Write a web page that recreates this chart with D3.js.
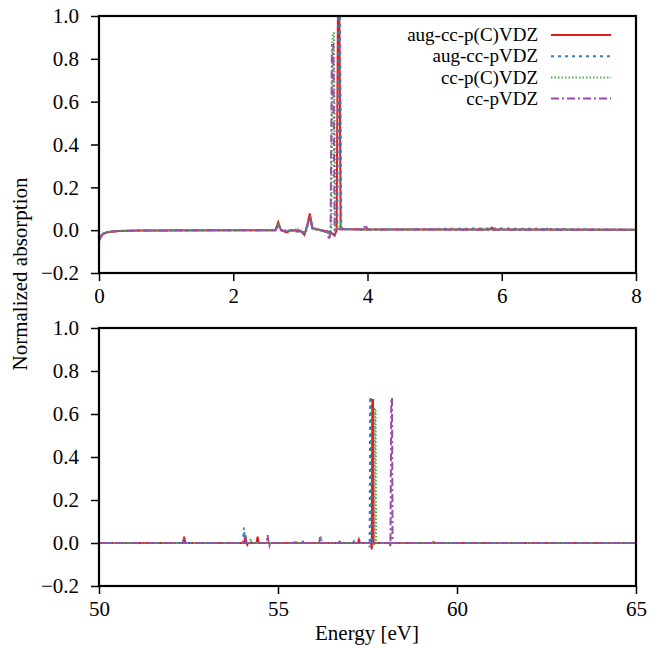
<!DOCTYPE html>
<html><head><meta charset="utf-8">
<script src="https://cdn.jsdelivr.net/npm/d3@7/dist/d3.min.js"></script>
<style>
body{margin:0;background:#fff;}
text{font-family:"Liberation Serif",serif;}
</style></head>
<body><svg id="c" width="662" height="648"></svg>
<script>
// ---- data ----
const seriesNames = ["aug-cc-p(C)VDZ","aug-cc-pVDZ","cc-p(C)VDZ","cc-pVDZ"];
const seriesColors = ["#e41a1c","#377eb8","#4daf4a","#984ea3"];
const seriesDash = [null,"3,4","1.5,2","8,3,2,3"];

const yTicks = [-0.2,0.0,0.2,0.4,0.6,0.8,1.0];
const topXTicks = [0,2,4,6,8];
const botXTicks = [50,55,60,65];

// top panel (0-8 eV): [energy, absorption]
const topRed = [[0,-0.05],[0.03,-0.03],[0.06,-0.018],[0.1,-0.012],[0.16,-0.008],[0.3,-0.004],[0.6,-0.002],[1.0,-0.001],[2.0,0],[2.63,0],[2.67,0.037],[2.71,0],[2.8,-0.01],[2.86,0],[3.0,-0.003],[3.06,-0.022],[3.1,0.02],[3.14,0.078],[3.18,0.01],[3.25,0.004],[3.32,0],[3.45,-0.01],[3.51,-0.025],[3.54,0],[3.56,1.05],[3.58,1.05],[3.6,0.004],[3.7,0.004],[4.0,0.003],[5.82,0.003],[5.85,0.012],[5.88,0.003],[8,0.002]];
const topBlue = [[0,-0.048],[0.03,-0.028],[0.06,-0.017],[0.1,-0.011],[0.16,-0.007],[0.3,-0.004],[0.6,-0.002],[1.0,-0.001],[2.0,0],[2.63,0],[2.67,0.03],[2.71,0],[2.8,-0.008],[2.86,0],[3.06,-0.015],[3.1,0.02],[3.14,0.07],[3.18,0.008],[3.3,0],[3.45,-0.008],[3.52,-0.02],[3.55,0],[3.57,1.05],[3.59,1.05],[3.61,0.004],[3.7,0.004],[4.0,0.003],[5.85,0.008],[8,0.002]];
const topGreen = [[0,-0.045],[0.03,-0.026],[0.06,-0.016],[0.1,-0.01],[0.16,-0.007],[0.3,-0.003],[0.6,-0.002],[1.0,-0.001],[2.0,0],[2.63,0],[2.67,0.025],[2.71,0],[2.92,0],[2.95,0.01],[2.98,0],[3.08,-0.01],[3.14,0.06],[3.18,0.006],[3.3,0],[3.42,-0.015],[3.46,0],[3.48,0.92],[3.5,0.92],[3.52,0],[3.58,0.01],[3.6,0.03],[3.63,0.005],[4.0,0.003],[8,0.002]];
const topPurple = [[0,-0.047],[0.03,-0.027],[0.06,-0.017],[0.1,-0.011],[0.16,-0.007],[0.3,-0.004],[0.6,-0.002],[1.0,-0.001],[2.0,0],[2.63,0],[2.67,0.025],[2.71,0],[2.8,-0.005],[2.9,0],[3.08,-0.012],[3.14,0.065],[3.18,0.006],[3.3,0],[3.4,-0.01],[3.43,-0.045],[3.45,0],[3.47,0.865],[3.49,0.865],[3.51,0],[3.56,0.005],[3.94,0.003],[3.97,0.025],[4.0,0.003],[6.65,0.002],[6.68,0.008],[6.71,0.002],[8,0.002]];

// bottom panel (50-65 eV)
const botRed = [[50,0],[52.35,0],[52.38,0.03],[52.41,0],[54.05,0],[54.09,0.035],[54.12,0],[54.14,-0.008],[54.16,0],[54.4,0],[54.43,0.03],[54.46,0],[56.69,0],[56.72,0.006],[56.75,0],[57.23,0],[57.26,0.016],[57.29,0],[57.6,0],[57.62,-0.03],[57.635,0.665],[57.655,0.665],[57.67,0],[65,0]];
const botBlue = [[50,0],[52.34,0],[52.36,0.012],[52.38,0],[54.02,0],[54.05,0.072],[54.07,0.02],[54.09,0.04],[54.11,0],[57.09,0],[57.12,0.008],[57.15,0],[57.54,0],[57.56,-0.02],[57.575,0.68],[57.595,0.68],[57.61,0],[65,0]];
const botGreen = [[50,0],[52.97,0],[53.0,0.005],[53.03,0],[54.2,0],[54.23,0.02],[54.26,0],[55.45,0],[55.48,0.012],[55.51,0],[56.17,0],[56.2,0.03],[56.23,0],[57.67,0],[57.69,-0.01],[57.705,0.625],[57.725,0.625],[57.74,0],[65,0]];
const botPurple = [[50,0],[53.07,0],[53.1,0.005],[53.13,0],[54.68,0],[54.71,0.037],[54.74,0],[54.76,-0.012],[54.78,0],[55.65,0],[55.68,0.012],[55.71,0],[56.15,0],[56.18,0.034],[56.21,0],[58.12,0],[58.14,-0.02],[58.165,0.675],[58.185,0.675],[58.2,0],[59.3,0],[59.33,0.01],[59.36,0],[65,0]];

const topData = [topRed, topBlue, topGreen, topPurple];
const botData = [botRed, botBlue, botGreen, botPurple];

// ---- drawing ----
const svg = d3.select("#c");
const left = 99, right = 636;
const panels = [
  {top:16, bottom:273, xdom:[0,8], ticks:topXTicks, data:topData, legend:true},
  {top:328, bottom:586, xdom:[50,65], ticks:botXTicks, data:botData, legend:false}
];
const fontSize = 21;
const legendFont = 19;
const fam = "Liberation Serif";

panels.forEach((p,pi)=>{
  const x = d3.scaleLinear().domain(p.xdom).range([left,right]);
  const y = d3.scaleLinear().domain([-0.2,1.0]).range([p.bottom,p.top]);
  const g = svg.append("g");
  const clipId = "clip"+pi;
  svg.append("clipPath").attr("id",clipId).append("rect")
    .attr("x",left).attr("y",p.top).attr("width",right-left).attr("height",p.bottom-p.top);

  const line = d3.line().x(d=>x(d[0])).y(d=>y(d[1]));
  const lg = g.append("g").attr("clip-path",`url(#${clipId})`);
  p.data.forEach((s,i)=>{
    lg.append("path").datum(s).attr("d",line)
      .attr("fill","none").attr("stroke",seriesColors[i]).attr("stroke-width",2)
      .attr("stroke-dasharray",seriesDash[i]);
  });

  // axes
  const ya = d3.axisLeft(y).tickValues(yTicks).tickSize(8).tickPadding(12).tickFormat(d3.format(".1f"));
  const xa = d3.axisBottom(x).tickValues(p.ticks).tickSize(8).tickPadding(7).tickFormat(d3.format("d"));
  const yg = g.append("g").attr("transform",`translate(${left},0)`).call(ya);
  const xg = g.append("g").attr("transform",`translate(0,${p.bottom})`).call(xa);
  [yg,xg].forEach(a=>{
    a.select(".domain").remove();
    a.selectAll("line").attr("stroke","#000").attr("stroke-width",1.5);
    a.selectAll("text").attr("font-family",fam).attr("font-size",fontSize).attr("fill","#000");
  });
  g.append("rect").attr("x",left).attr("y",p.top).attr("width",right-left).attr("height",p.bottom-p.top)
    .attr("fill","none").attr("stroke","#000").attr("stroke-width",2.2);

  if(p.legend){
    const ly0 = 35, ldy = 21.2;
    seriesNames.forEach((n,i)=>{
      const yy = ly0 + i*ldy;
      g.append("text").attr("x",538).attr("y",yy).attr("dy","0.33em")
        .attr("text-anchor","end").attr("font-size",legendFont).text(n);
      g.append("line").attr("x1",551).attr("x2",611).attr("y1",yy).attr("y2",yy)
        .attr("stroke",seriesColors[i]).attr("stroke-width",2).attr("stroke-dasharray",seriesDash[i]);
    });
  }
});

svg.append("text").attr("transform","translate(20,274) rotate(-90)")
  .attr("text-anchor","middle").attr("dy","0.33em").attr("font-size",fontSize).text("Normalized absorption");
svg.append("text").attr("x",367).attr("y",633).attr("dy","0.33em")
  .attr("text-anchor","middle").attr("font-size",fontSize).text("Energy [eV]");
</script></body></html>
